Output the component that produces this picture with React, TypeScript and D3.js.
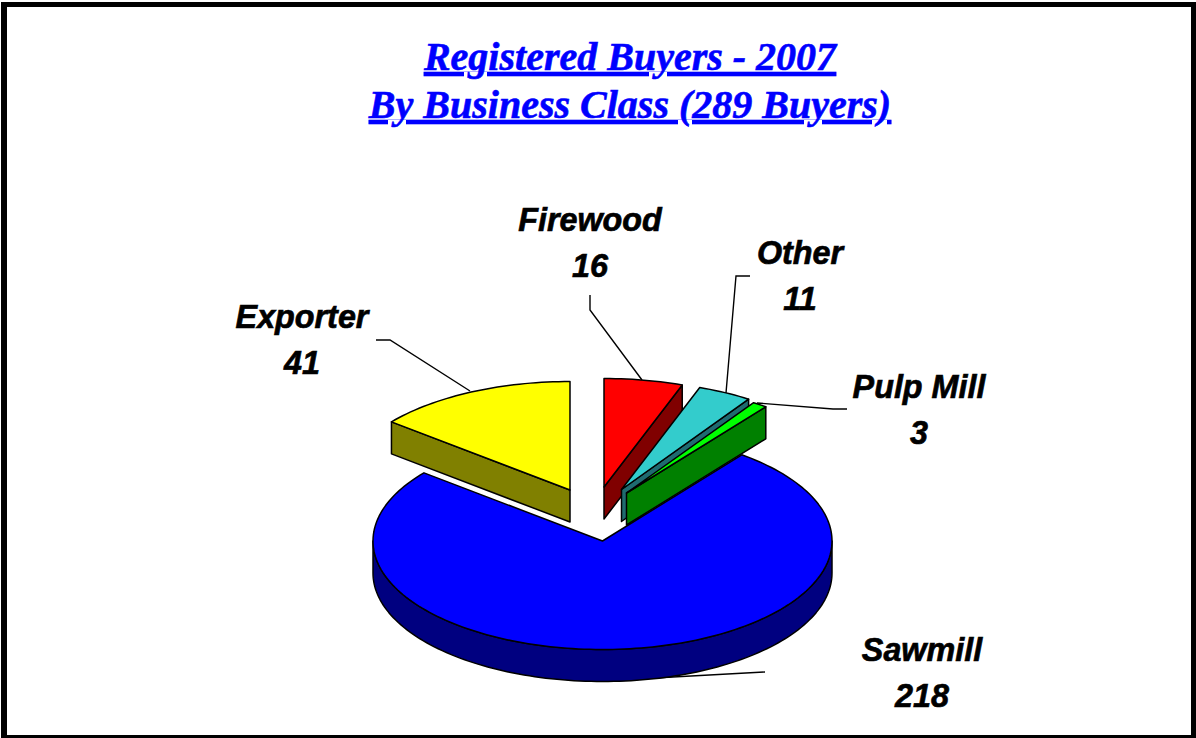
import React from "react";
import * as d3 from "d3";

const categories = ["Firewood", "Other", "Pulp Mill", "Sawmill", "Exporter"];
const buyers = [16, 11, 3, 218, 41];
const topColors = ["#ff0000", "#33cccc", "#00ff00", "#0000ff", "#ffff00"];
const sideColors = ["#800000", "#1f6b70", "#008000", "#000080", "#808000"];
const titleLines = ["Registered Buyers - 2007", "By Business Class (289 Buyers)"];

// slice apex positions on the page
const apexX = [604, 621.5, 626.5, 602.5, 570];
const apexY = [487, 489.5, 493, 541, 490];
const labelX = [590, 800, 919, 922, 302];
const labelY = [231, 264, 398, 661, 328];
const leaderLines: [number, number][][] = [
  [[590, 295], [590, 310], [642, 380]],
  [[750, 276], [736, 276], [726, 393]],
  [[847, 409], [833, 409], [757, 403]],
  [[765, 672], [600, 681]],
  [[376, 340], [390, 340], [470, 391]],
];
const drawOrder = [3, 4, 0, 1, 2];

const W = 1196, H = 738, RX = 229.5, RY = 108.5, DEPTH = 32;
const FONT = "'Liberation Sans', Arial, sans-serif";
const SERIF = "'Liberation Serif', 'Times New Roman', serif";

const pie = d3.pie<number>().sort(null).startAngle(0).endAngle(2 * Math.PI);
const arcs = pie(buyers);
const line = d3.line<[number, number]>();
const sx = d3.scaleLinear().domain([-1, 1]).range([-RX, RX]);
const sy = d3.scaleLinear().domain([-1, 1]).range([-RY, RY]);

const point = (cx: number, cy: number, a: number, dy = 0): [number, number] => [
  cx + sx(Math.sin(a)),
  cy + sy(-Math.cos(a)) + dy,
];
const sweep = (cx: number, cy: number, a0: number, a1: number, dy = 0) => {
  const n = Math.max(2, Math.ceil(Math.abs(a1 - a0) * 40));
  return d3.range(n + 1).map((k) => point(cx, cy, a0 + ((a1 - a0) * k) / n, dy));
};

function Slice({ i }: { i: number }) {
  const { startAngle: a0, endAngle: a1 } = arcs[i];
  const cx = apexX[i], cy = apexY[i];
  const apex: [number, number] = [cx, cy];
  const apexLow: [number, number] = [cx, cy + DEPTH];
  const top = line([apex, ...sweep(cx, cy, a0, a1)]) + "Z";
  const sides: string[] = [];
  if (a1 > Math.PI && a0 < Math.PI && a1 - a0 > Math.PI) {
    // outer rim of the large slice, front half only
    const rim = sweep(cx, cy, Math.PI / 2, (3 * Math.PI) / 2);
    const low = sweep(cx, cy, (3 * Math.PI) / 2, Math.PI / 2, DEPTH);
    sides.push(line([...rim, ...low]) + "Z");
  } else if (a0 > Math.PI) {
    // start edge faces the viewer on the left side of the pie
    const p = point(cx, cy, a0);
    sides.push(line([p, apex, apexLow, [p[0], p[1] + DEPTH]]) + "Z");
  } else {
    // end edge faces the viewer on the right side of the pie
    const p = point(cx, cy, a1);
    sides.push(line([apex, p, [p[0], p[1] + DEPTH], apexLow]) + "Z");
  }
  return (
    <g stroke="#000" strokeWidth={1.5} strokeLinejoin="round">
      {sides.map((d, k) => (
        <path key={k} d={d} fill={sideColors[i]} />
      ))}
      <path d={top} fill={topColors[i]} />
    </g>
  );
}

export default function App() {
  const frame = `M1 2H${W}V${H}H1Z M7 7V735H1191V7Z`;
  return (
    <svg
      width={W}
      height={H}
      viewBox={`0 0 ${W} ${H}`}
      style={{ position: "absolute", left: 0, top: 0, background: "#fff" }}
    >
      <path d={frame} fill="#000" fillRule="evenodd" />
      {titleLines.map((t, k) => (
        <text
          key={t}
          x={630}
          y={70 + k * 48}
          textAnchor="middle"
          fill="#0000ff"
          stroke="#0000ff"
          strokeWidth={0.6}
          fontFamily={SERIF}
          fontWeight="bold"
          fontStyle="italic"
          fontSize={40}
          style={{
            textDecorationLine: "underline",
            textDecorationThickness: "4px",
            textUnderlineOffset: "4px",
            textDecorationSkipInk: "none",
          } as React.CSSProperties}
        >
          {t}
        </text>
      ))}
      {leaderLines.map((pts, i) => (
        <path key={i} d={line(pts) ?? ""} fill="none" stroke="#000" strokeWidth={1.4} />
      ))}
      {drawOrder.map((i) => (
        <Slice key={i} i={i} />
      ))}
      {categories.map((c, i) => (
        <g
          key={c}
          transform={`translate(${labelX[i]},0) scale(0.95,1)`}
          fontFamily={FONT}
          fontWeight="bold"
          fontStyle="italic"
          fontSize={34}
          textAnchor="middle"
          fill="#000"
          stroke="#000"
          strokeWidth={0.7}
        >
          <text y={labelY[i]}>{c}</text>
          <text y={labelY[i] + 46}>{buyers[i]}</text>
        </g>
      ))}
    </svg>
  );
}
